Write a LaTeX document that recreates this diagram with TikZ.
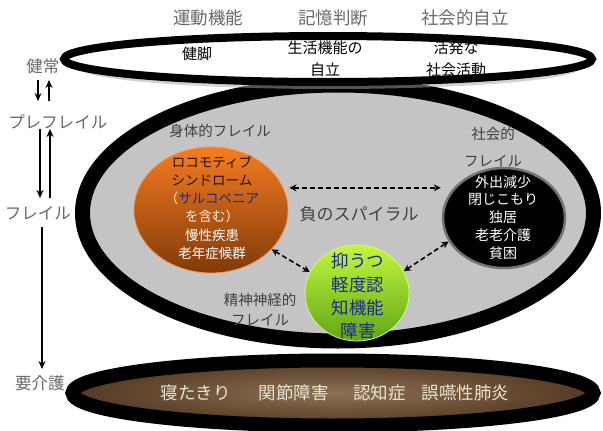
\documentclass[tikz,border=0pt]{standalone}
\usepackage{fontspec}
\setmainfont{Noto Sans CJK JP}
\usetikzlibrary{shapes.geometric,arrows.meta,calc}
\definecolor{lbl}{RGB}{105,105,105}
\definecolor{midgray}{RGB}{196,196,196}
\definecolor{orTop}{RGB}{246,124,34}
\definecolor{orBot}{RGB}{128,58,8}
\definecolor{grTop}{RGB}{196,246,64}
\definecolor{grBot}{RGB}{96,166,20}
\definecolor{brA}{RGB}{120,88,56}
\definecolor{brB}{RGB}{84,58,34}
\definecolor{navy}{RGB}{28,40,140}
\definecolor{bottxt}{RGB}{236,228,214}
\begin{document}
\begin{tikzpicture}[x=1pt,y=-1pt,
  lab/.style={text=lbl,font=\fontsize{16.5}{18}\selectfont,inner sep=0pt},
  toplab/.style={text=lbl,font=\fontsize{17.5}{20}\selectfont,inner sep=0pt},
  intxt/.style={text=black,font=\fontsize{15}{22}\selectfont,inner sep=0pt,align=center},
  ring/.style={ellipse,draw=black,inner sep=0pt},
  spiral/.style={dashed,line width=1.6pt,dash pattern=on 5pt off 3pt,{Stealth[length=7pt,width=7pt]}-{Stealth[length=7pt,width=7pt]}},
  vert/.style={line width=1.6pt,-{Stealth[length=8pt,width=7pt]}}]
\useasboundingbox (0,0) rectangle (603,431);
\fill[white] (0,0) rectangle (603,431);

% middle ellipse
\node[ring,line width=15pt,fill=midgray,minimum width=511pt,minimum height=256pt] (mid) at (338,213) {};
% top ellipse
\fill[black!35,opacity=0.5] (330,68) ellipse [x radius=250pt,y radius=21pt];
\node[ring,line width=8pt,fill=white,minimum width=528pt,minimum height=46pt] (top) at (328,59) {};

% bottom ellipse
\node[ring,line width=14pt,inner color=brA!85!white,outer color=brB,minimum width=521pt,minimum height=65pt] (bot) at (333,393) {};

% top labels
\node[toplab] (t1) at (208,18) {運動機能};
\node[toplab] (t2) at (333,18) {記憶判断};
\node[toplab] (t3) at (465,18) {社会的自立};
\node[intxt] (k1) at (197,54) {健脚};
\node[intxt] (k2) at (325,58.5) {生活機能の\\自立};
\node[intxt] (k3) at (456,58.5) {活発な\\社会活動};

% left scale
\node[lab] (s1) at (43,66) {健常};
\node[lab] (s2) at (58,122) {プレフレイル};
\node[lab] (s3) at (38,213) {フレイル};
\node[lab] (s4) at (40,383) {要介護};
\draw[vert] (38,80) coordinate (a1) -- (38,101);
\draw[vert] (49,101) coordinate (a2) -- (49,80);
\draw[vert] (40,129) coordinate (a3) -- (40,198);
\draw[vert] (50,198) coordinate (a4) -- (50,129);
\draw[vert] (42,227) coordinate (a5) -- (42,369);

% circles
\node[ellipse,draw=orTop!80!white,line width=0.8pt,top color=orTop,bottom color=orBot,minimum width=154pt,minimum height=126pt,inner sep=0pt] (orange) at (211,210) {};
\node[ellipse,draw=black!55,line width=2.5pt,fill=black,minimum width=122pt,minimum height=100pt,inner sep=0pt] (blk) at (504,218) {};
\node[ellipse,draw=grTop!70!white,line width=0.8pt,top color=grTop,bottom color=grBot,minimum width=104pt,minimum height=96pt,inner sep=0pt] (green) at (357,293) {};

% group labels
\node[intxt,text=black!75,font=\fontsize{14.5}{16}\selectfont] (g1) at (220,131) {身体的フレイル};
\node[intxt,text=black!75,font=\fontsize{14.5}{27}\selectfont] (g2) at (493,147) {社会的\\フレイル};
\node[intxt,text=black!75,font=\fontsize{14.5}{20}\selectfont] (g3) at (260,310) {精神神経的\\フレイル};
\node[intxt,text=black!75,font=\fontsize{17}{20}\selectfont] (neg) at (359,214) {負のスパイラル};

% circle texts
\node[intxt,font=\fontsize{13.5}{18.2}\selectfont] (otxt) at (212,207.5) {%
{\color{black!85!orange}ロコモティブ}\\
{\color{black!85!orange}シンドローム}\\
{\color{white!80!orange}（}{\color{navy}サルコペニア}\\
{\color{white!85!orange}を含む）}\\
{\color{white}慢性疾患}\\
{\color{white}老年症候群}};
\node[intxt,text=white,font=\fontsize{14}{17.8}\selectfont] (btxt) at (503,217.5) {外出減少\\閉じこもり\\独居\\老老介護\\貧困};
\node[intxt,text=navy,font=\fontsize{17.5}{23.3}\selectfont] (gtxt) at (358,296) {抑うつ\\軽度認\\知機能\\障害};

% spiral arrows
\draw[spiral] ([xshift=6pt]orange.17) -- ([xshift=-1pt]orange.17 -| blk.west);
\draw[spiral] (orange.-33) -- (green.156);
\draw[spiral] (green.25) -- (blk.-157);

% bottom text
\node[intxt,text=bottxt,font=\fontsize{17.5}{20}\selectfont] (bt) at (335,393) {寝たきり\hspace{1.6em}関節障害\hspace{1.4em}認知症\hspace{0.9em}誤嚥性肺炎};
\end{tikzpicture}
\end{document}
